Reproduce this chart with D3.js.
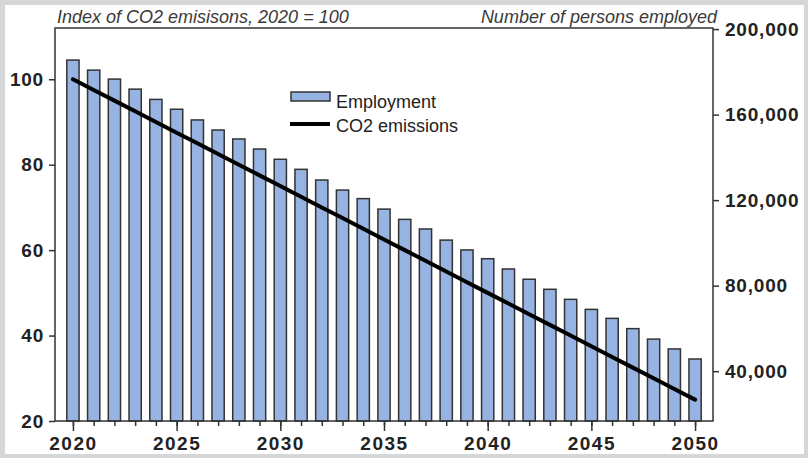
<!DOCTYPE html>
<html>
<head>
<meta charset="utf-8">
<script src="https://cdn.jsdelivr.net/npm/d3@7"></script>
<style>
  html, body { margin: 0; padding: 0; background: #d6d7d9; }
  svg { display: block; font-family: "Liberation Sans", Arial, sans-serif; }
</style>
</head>
<body>
<svg id="chart" width="808" height="458"></svg>
<script>
const years = [2020, 2021, 2022, 2023, 2024, 2025, 2026, 2027, 2028, 2029,
               2030, 2031, 2032, 2033, 2034, 2035, 2036, 2037, 2038, 2039,
               2040, 2041, 2042, 2043, 2044, 2045, 2046, 2047, 2048, 2049, 2050];
const employment = [185500, 180800, 176600, 171900, 167100, 162500, 157500, 152800, 148600, 143900,
                    139100, 134400, 129400, 124700, 120700, 115800, 111000, 106500, 101300, 96700,
                    92600, 87800, 83000, 78300, 73600, 68900, 64700, 59900, 55000, 50400, 45700];
const co2 = [100, 97.5, 95, 92.5, 90, 87.5, 85, 82.5, 80, 77.5,
             75, 72.5, 70, 67.5, 65, 62.5, 60, 57.5, 55, 52.5,
             50, 47.5, 45, 42.5, 40, 37.5, 35, 32.5, 30, 27.5, 25];
const leftTicks = [20, 40, 60, 80, 100];
const rightTicks = [40000, 80000, 120000, 160000, 200000];
const xLabelYears = [2020, 2025, 2030, 2035, 2040, 2045, 2050];
const leftTitle = "Index of CO2 emisisons, 2020 = 100";
const rightTitle = "Number of persons employed";
const legendLabels = ["Employment", "CO2 emissions"];

const svg = d3.select("#chart");
const L = 55, R = 713, T = 28, B = 421;

svg.append("rect").attr("x", 5).attr("y", 5).attr("width", 799).attr("height", 449).attr("fill", "#ffffff");

const x = d3.scaleBand().domain(years).range([L, R]).paddingInner(0.41).paddingOuter(0.57);
const yL = d3.scaleLinear().domain([20, 112]).range([B, T]);
const yR = d3.scaleLinear().domain([16700, 200500]).range([B, T]);

// bars
svg.append("g").selectAll("rect").data(years).join("rect")
  .attr("x", (d) => x(d))
  .attr("y", (d, i) => yR(employment[i]))
  .attr("width", x.bandwidth())
  .attr("height", (d, i) => B - yR(employment[i]))
  .attr("fill", "#97b3e1")
  .attr("stroke", "#333")
  .attr("stroke-width", 1.5);

// line
const line = d3.line().x((d, i) => x(years[i]) + x.bandwidth() / 2).y((d) => yL(d));
svg.append("path").datum(co2).attr("d", line)
  .attr("fill", "none").attr("stroke", "#000").attr("stroke-width", 4).attr("stroke-linecap", "round");

// frame
svg.append("rect").attr("x", L).attr("y", T).attr("width", R - L).attr("height", B - T)
  .attr("fill", "none").attr("stroke", "#333").attr("stroke-width", 1.5);

function styleAxis(g, size, ls) {
  g.select(".domain").remove();
  g.selectAll(".tick line").attr("stroke", "#333").attr("stroke-width", 1.5);
  g.selectAll(".tick text").attr("fill", "#222").style("font-size", size + "px")
    .style("font-weight", "bold").style("letter-spacing", ls + "px")
    .style("font-family", "'Liberation Sans', Arial, sans-serif");
}

// left axis
const gl = svg.append("g").attr("transform", `translate(${L},0)`)
  .call(d3.axisLeft(yL).tickValues(leftTicks).tickSize(6).tickPadding(5));
styleAxis(gl, 19, 0.8);

// right axis
const gr = svg.append("g").attr("transform", `translate(${R},0)`)
  .call(d3.axisRight(yR).tickValues(rightTicks).tickSize(6).tickPadding(6).tickFormat(d3.format(",")));
styleAxis(gr, 19, 0.8);

// bottom minor ticks
const xc = (d) => x(d) + x.bandwidth() / 2;
const xPoint = d3.scaleOrdinal().domain(years).range(years.map(xc));
const gbm = svg.append("g").attr("transform", `translate(0,${B})`)
  .call(d3.axisBottom(xPoint).tickValues(years).tickSize(5).tickFormat(""));
styleAxis(gbm, 19, 1.5);
// bottom major ticks with labels
const gb = svg.append("g").attr("transform", `translate(0,${B})`)
  .call(d3.axisBottom(xPoint).tickValues(xLabelYears).tickSize(10).tickPadding(6));
styleAxis(gb, 19, 1.5);

// titles
svg.append("text").attr("x", 57).attr("y", 22.5).text(leftTitle)
  .attr("fill", "#3a3a3a").style("font-size", "18px").style("font-style", "italic");
svg.append("text").attr("x", 717).attr("y", 22.5).attr("text-anchor", "end").text(rightTitle)
  .attr("fill", "#3a3a3a").style("font-size", "18px").style("font-style", "italic");

// legend
const lg = svg.append("g");
lg.append("rect").attr("x", 291).attr("y", 92).attr("width", 39).attr("height", 9)
  .attr("fill", "#97b3e1").attr("stroke", "#333").attr("stroke-width", 1.5);
lg.append("text").attr("x", 336).attr("y", 107.5).text(legendLabels[0])
  .attr("fill", "#222").style("font-size", "18px");
lg.append("line").attr("x1", 290).attr("x2", 330).attr("y1", 124).attr("y2", 124)
  .attr("stroke", "#000").attr("stroke-width", 4);
lg.append("text").attr("x", 336).attr("y", 131.5).text(legendLabels[1])
  .attr("fill", "#222").style("font-size", "18px");
</script>
</body>
</html>
